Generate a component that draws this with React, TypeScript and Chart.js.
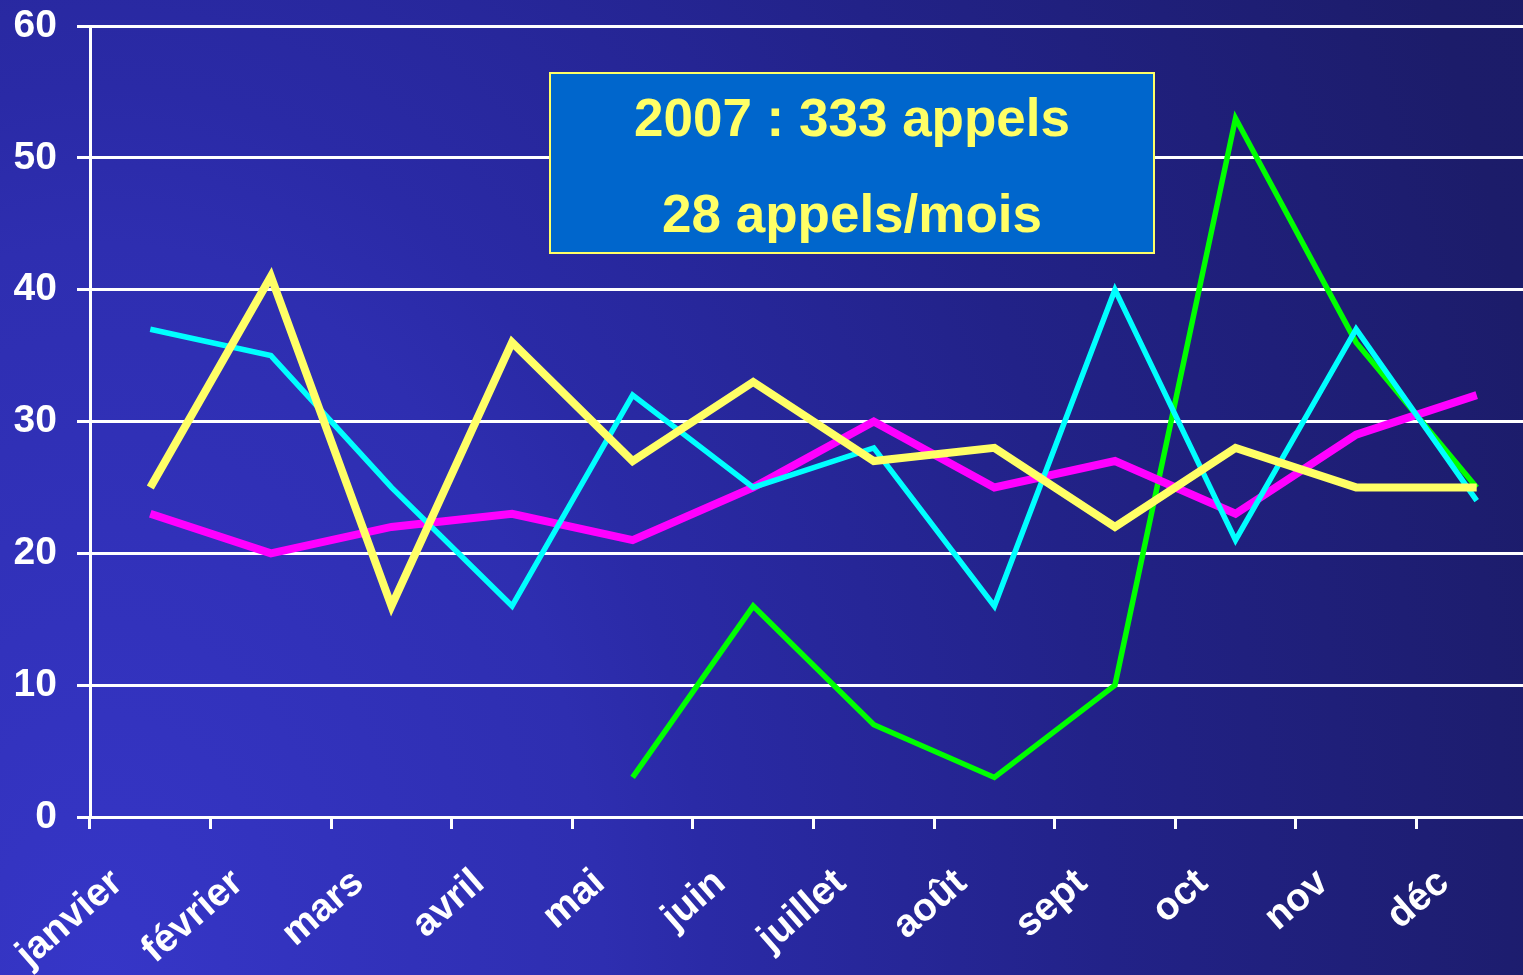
import React, { useEffect, useRef } from "react";
import { Chart, registerables } from "chart.js";

Chart.register(...registerables);

const months = ["janvier", "février", "mars", "avril", "mai", "juin", "juillet", "août", "sept", "oct", "nov", "déc"];
const series2007 = [25, 41, 16, 36, 27, 33, 27, 28, 22, 28, 25, 25];
const seriesCyan = [37, 35, 25, 16, 32, 25, 28, 16, 40, 21, 37, 24];
const seriesMagenta = [23, 20, 22, 23, 21, 25, 30, 25, 27, 23, 29, 32];
const seriesGreen = [null, null, null, null, 3, 16, 7, 3, 10, 53, 36, 25];
const yTicks = [0, 10, 20, 30, 40, 50, 60];
const boxLines = ["2007 : 333 appels", "28 appels/mois"];

const FONT = '"Liberation Sans", Arial, Helvetica, sans-serif';

const bgPlugin = {
  id: "bg",
  beforeDraw(chart: any) {
    const ctx = chart.ctx;
    ctx.save();
    ctx.translate(100, 1000);
    ctx.scale(1, 1.5);
    const g = ctx.createRadialGradient(0, 0, 0, 0, 0, 2100);
    g.addColorStop(0, "#3636c8");
    g.addColorStop(0.24, "#2e2eb0");
    g.addColorStop(0.29, "#2a2aa6");
    g.addColorStop(0.48, "#222288");
    g.addColorStop(0.71, "#1c1c6a");
    g.addColorStop(1, "#1a1a5c");
    ctx.fillStyle = g;
    ctx.fillRect(-5000, -5000, 10000, 10000);
    ctx.restore();
  },
};

const boxPlugin = {
  id: "box",
  afterDraw(chart: any) {
    const ctx = chart.ctx;
    ctx.save();
    ctx.fillStyle = "#0066cc";
    ctx.fillRect(549, 72, 606, 182);
    ctx.strokeStyle = "#ffff66";
    ctx.lineWidth = 2;
    ctx.strokeRect(550, 73, 604, 180);
    ctx.fillStyle = "#ffff66";
    ctx.font = `bold 53px ${FONT}`;
    ctx.textAlign = "center";
    ctx.textBaseline = "alphabetic";
    ctx.fillText(boxLines[0], 852, 136);
    ctx.fillText(boxLines[1], 852, 232);
    ctx.restore();
  },
};

export default function App() {
  const ref = useRef<HTMLCanvasElement | null>(null);
  useEffect(() => {
    if (!ref.current) return;
    const chart = new Chart(ref.current, {
      type: "line",
      data: {
        labels: months,
        datasets: [
          { label: "2007", data: series2007, borderColor: "#ffff66", borderWidth: 8, pointRadius: 0, tension: 0 },
          { label: "cyan", data: seriesCyan, borderColor: "#00ffff", borderWidth: 5.5, pointRadius: 0, tension: 0 },
          { label: "magenta", data: seriesMagenta, borderColor: "#ff00ff", borderWidth: 8, pointRadius: 0, tension: 0 },
          { label: "green", data: seriesGreen as any, borderColor: "#00ff00", borderWidth: 5.5, pointRadius: 0, tension: 0 },
        ],
      },
      options: {
        responsive: false,
        animation: false,
        layout: { padding: { top: 26, right: 8, left: 0, bottom: 0 } },
        plugins: { legend: { display: false }, tooltip: { enabled: false } },
        scales: {
          x: {
            type: "category",
            offset: true,
            afterFit: (s: any) => { s.height = 158; },
            grid: { display: true, offset: true, drawOnChartArea: false, drawTicks: true, tickLength: 12, color: "#ffffff", lineWidth: 3 },
            border: { display: true, color: "#ffffff", width: 3 },
            ticks: {
              autoSkip: false,
              minRotation: 41,
              maxRotation: 41,
              padding: 31,
              labelOffset: -33,
              color: "#ffffff",
              font: { family: FONT, size: 39, weight: "bold" },
            },
          },
          y: {
            min: 0,
            max: 60,
            afterFit: (s: any) => { s.width = 90; s.paddingTop = 0; s.paddingBottom = 0; },
            afterBuildTicks: (s: any) => { s.ticks = yTicks.map((v) => ({ value: v })); },
            grid: { color: "#ffffff", lineWidth: 3, tickLength: 13, drawTicks: true },
            border: { display: true, color: "#ffffff", width: 3 },
            ticks: {
              padding: 20,
              color: "#ffffff",
              font: { family: FONT, size: 39, weight: "bold" },
            },
          },
        },
      },
      plugins: [bgPlugin, boxPlugin],
    });
    return () => chart.destroy();
  }, []);
  return (
    <div style={{ position: "fixed", left: 0, top: 0, width: 1523, height: 975, overflow: "hidden" }}>
      <canvas ref={ref} width={1545} height={975} style={{ display: "block", width: 1545, height: 975 }} />
    </div>
  );
}
